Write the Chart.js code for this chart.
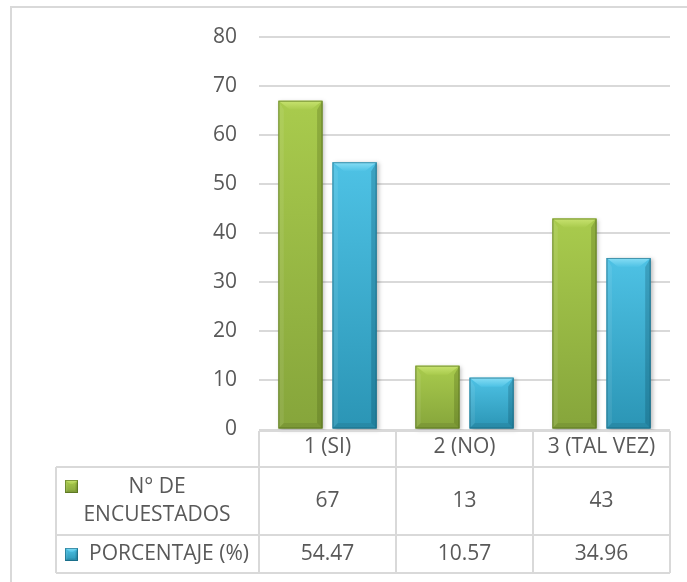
<!DOCTYPE html>
<html>
<head>
<meta charset="utf-8">
<script src="https://cdn.jsdelivr.net/npm/chart.js@4/dist/chart.umd.min.js"></script>
<style>
  html, body { margin: 0; padding: 0; background: #ffffff; }
  #wrap { position: relative; width: 687px; height: 582px; }
</style>
</head>
<body>
<div id="wrap"><canvas id="chart" width="687" height="582"></canvas></div>
<script>
// Survey answers and the two series shown in the data table
const categories = ['1 (SI)', '2 (NO)', '3 (TAL VEZ)'];
const encuestados = [67, 13, 43];
const porcentaje = [54.47, 10.57, 34.96];
const seriesLabels = [['N° DE', 'ENCUESTADOS'], ['PORCENTAJE (%)']];
const yMin = 0, yMax = 80, yStep = 10;

const FONT = '"Open Sans", Lato, sans-serif';
const FONT_SIZE = 21;
const TEXT = '#595959';
const LINE = '#d9d9d9';

const palettes = [
  { top: '#a9cb4d', bottom: '#86a53b', light: '#c8e370', side: 'rgba(255,255,255,0.08)', dark: 'rgba(50,70,10,0.22)', edge: 'rgba(70,95,20,0.55)' },
  { top: '#4ec2e5', bottom: '#2b95b5', light: '#88def5', side: 'rgba(255,255,255,0.08)', dark: 'rgba(0,50,70,0.22)', edge: 'rgba(15,90,115,0.55)' }
];

// Bevelled box used for bars and for the table legend keys
function bevelBox(ctx, l, t, r, b, pal, bev, shadow) {
  const w = r - l, h = b - t;
  bev = Math.min(bev, w / 3, h / 2);
  ctx.save();
  if (shadow) {
    ctx.shadowColor = 'rgba(0,0,0,0.25)';
    ctx.shadowBlur = 4;
    ctx.shadowOffsetX = 2;
    ctx.shadowOffsetY = 1;
  }
  const g = ctx.createLinearGradient(0, t, 0, b);
  g.addColorStop(0, pal.top);
  g.addColorStop(1, pal.bottom);
  ctx.fillStyle = g;
  ctx.fillRect(l, t, w, h);
  ctx.restore();

  ctx.save();
  const poly = (pts, fill) => {
    ctx.beginPath();
    ctx.moveTo(pts[0][0], pts[0][1]);
    for (let i = 1; i < pts.length; i++) ctx.lineTo(pts[i][0], pts[i][1]);
    ctx.closePath();
    ctx.fillStyle = fill;
    ctx.fill();
  };
  // left face
  poly([[l, t], [l + bev * 0.6, t + bev], [l + bev * 0.6, b - bev * 0.6], [l, b]], pal.side);
  // right face
  poly([[r, t], [r - bev * 0.6, t + bev], [r - bev * 0.6, b - bev * 0.6], [r, b]], pal.dark);
  // bottom face
  poly([[l, b], [r, b], [r - bev * 0.6, b - bev * 0.6], [l + bev * 0.6, b - bev * 0.6]], 'rgba(0,0,0,0.08)');
  // top face
  const tg = ctx.createLinearGradient(0, t, 0, t + bev);
  tg.addColorStop(0, pal.light);
  tg.addColorStop(1, pal.top);
  poly([[l, t], [r, t], [r - bev * 1.3, t + bev], [l + bev * 1.3, t + bev]], tg);
  ctx.strokeStyle = pal.edge;
  ctx.lineWidth = 1;
  ctx.strokeRect(l + 0.5, t + 0.5, w - 1, h - 1);
  ctx.restore();
}

// Outer frame of the chart
const framePlugin = {
  id: 'frame',
  beforeDraw(chart) {
    const ctx = chart.ctx;
    ctx.save();
    ctx.strokeStyle = LINE;
    ctx.lineWidth = 2;
    ctx.beginPath();
    ctx.moveTo(11, chart.height);
    ctx.lineTo(11, 7);
    ctx.lineTo(chart.width, 7);
    ctx.stroke();
    ctx.restore();
  }
};

// Redraw each bar with a bevelled gradient fill
const bevelPlugin = {
  id: 'bevelBars',
  afterDatasetsDraw(chart) {
    const ctx = chart.ctx;
    chart.data.datasets.forEach((ds, di) => {
      const meta = chart.getDatasetMeta(di);
      meta.data.forEach(bar => {
        const l = bar.x - bar.width / 2, r = bar.x + bar.width / 2;
        bevelBox(ctx, l, bar.y, r, bar.base, palettes[di], 9, true);
      });
    });
  }
};

// Data table under the plot
const tablePlugin = {
  id: 'dataTable',
  afterDraw(chart) {
    const ctx = chart.ctx;
    const xs = chart.scales.x;
    const area = chart.chartArea;
    const n = categories.length;
    const half = (xs.getPixelForTick(1) - xs.getPixelForTick(0)) / 2;
    const bounds = [];
    for (let i = 0; i < n; i++) bounds.push(xs.getPixelForTick(i) - half);
    bounds.push(xs.getPixelForTick(n - 1) + half);

    const headTop = area.bottom + 1.5;
    const row1Top = headTop + 36;
    const row2Top = row1Top + 68;
    const tableBottom = row2Top + 38;
    const leftX = 56;

    ctx.save();
    ctx.strokeStyle = LINE;
    ctx.lineWidth = 2;
    ctx.beginPath();
    // header top
    ctx.moveTo(bounds[0], headTop); ctx.lineTo(bounds[n], headTop);
    // row lines
    [row1Top, row2Top, tableBottom].forEach(y => { ctx.moveTo(leftX, y); ctx.lineTo(bounds[n], y); });
    // column lines
    bounds.forEach(x => { ctx.moveTo(x, headTop); ctx.lineTo(x, tableBottom); });
    ctx.moveTo(leftX, row1Top); ctx.lineTo(leftX, tableBottom);
    ctx.stroke();

    ctx.fillStyle = TEXT;
    ctx.font = FONT_SIZE + 'px ' + FONT;
    ctx.textBaseline = 'middle';
    ctx.textAlign = 'center';

    const r1Mid = (row1Top + row2Top) / 2;
    const r2Mid = (row2Top + tableBottom) / 2;

    // row headers with legend keys
    bevelBox(ctx, 65, r1Mid - 21, 78, r1Mid - 8, palettes[0], 4, false);
    ctx.fillText(seriesLabels[0][0], 157, r1Mid - 14);
    ctx.fillText(seriesLabels[0][1], 157, r1Mid + 14);
    bevelBox(ctx, 65, r2Mid - 6, 78, r2Mid + 7, palettes[1], 4, false);
    ctx.textAlign = 'left';
    ctx.fillText(seriesLabels[1][0], 89, r2Mid);

    ctx.textAlign = 'center';
    for (let i = 0; i < n; i++) {
      const cx = xs.getPixelForTick(i);
      ctx.fillText(String(encuestados[i]), cx, r1Mid);
      ctx.fillText(porcentaje[i].toFixed(2), cx, r2Mid);
    }
    ctx.restore();
  }
};

function build() {
  new Chart(document.getElementById('chart'), {
    type: 'bar',
    data: {
      labels: categories,
      datasets: [
        { label: seriesLabels[0].join(' '), data: encuestados, backgroundColor: '#9bbb59' },
        { label: seriesLabels[1][0], data: porcentaje, backgroundColor: '#4bacc6' }
      ]
    },
    options: {
      responsive: false,
      animation: false,
      devicePixelRatio: 1,
      layout: { padding: { left: 0, right: 17, top: 37, bottom: 9 } },
      datasets: { bar: { categoryPercentage: 0.79, barPercentage: 0.815 } },
      plugins: { legend: { display: false }, tooltip: { enabled: false } },
      scales: {
        x: {
          grid: { display: false, drawTicks: false },
          border: { display: false },
          ticks: { color: TEXT, font: { family: FONT, size: FONT_SIZE }, padding: 5 },
          afterFit(scale) { scale.height = 143.5; }
        },
        y: {
          min: yMin, max: yMax,
          grid: { color: LINE, lineWidth: 2, drawTicks: false },
          border: { display: false },
          ticks: { stepSize: yStep, color: TEXT, font: { family: FONT, size: FONT_SIZE }, padding: 22 },
          afterFit(scale) { scale.width = 259; }
        }
      }
    },
    plugins: [framePlugin, bevelPlugin, tablePlugin]
  });
}

if (document.fonts && document.fonts.load) {
  document.fonts.load(FONT_SIZE + 'px "Open Sans"').then(build, build);
} else {
  build();
}
</script>
</body>
</html>
